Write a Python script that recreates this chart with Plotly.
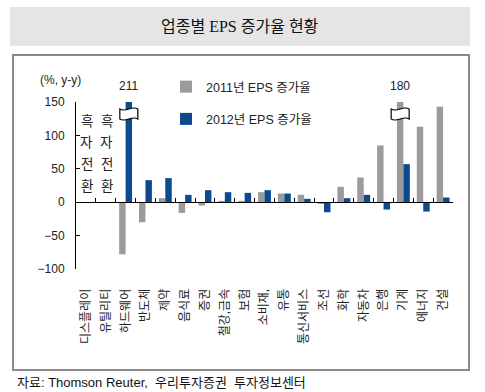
import plotly.graph_objects as go

# ---------------- data ----------------
categories = ["디스플레이", "유틸리티", "하드웨어", "반도체", "제약", "음식료", "증권",
              "철강,금속", "보험", "소비재,", "유통", "통신서비스", "조선", "화학",
              "자동차", "은행", "기계", "에너지", "건설"]
eps_2011 = [None, None, -78, -30, 6, -16, -5, 2, 2, 15, 13, 11, -2, 23, 37, 85, 180, 113, 143]
eps_2012 = [None, None, 211, 33, 36, 11, 18, 15, 14, 18, 13, 5, -15, 6, 11, -11, 57, -14, 7]
series_names = ["2011년 EPS 증가율", "2012년 EPS 증가율"]
turnaround_text = "흑자전환"
turnaround_cats = ["디스플레이", "유틸리티"]
y_ticks = [-100, -50, 0, 50, 100, 150]
y_range = [-100, 150]

title_text = "업종별 EPS 증가율 현황"
unit_text = "(%, y-y)"
source_text = "자료: Thomson Reuter,\u00a0\u00a0우리투자증권\u00a0\u00a0투자정보센터"

# ---------------- style ----------------
GRAY = "#9b9b9b"
BLUE = "#0b4a8f"
FONT = "Liberation Sans, Arial, Noto Sans CJK KR, sans-serif"
SERIF = "Liberation Serif, Noto Sans CJK KR, serif"

W, H = 485, 392
L, R, T, B = 76, 453, 102, 269   # plot area in pixels
BARGAP = 0.35
bw = (1 - BARGAP) / 2             # width of one bar in category units


def px_x(p):
    return (p - L) / (R - L)


def px_y(p):
    return (B - p) / (B - T)


cap = y_range[1] + 5
disp_2011 = [None if v is None else min(v, cap) for v in eps_2011]
disp_2012 = [None if v is None else min(v, cap) for v in eps_2012]

fig = go.Figure()
fig.add_trace(go.Bar(x=categories, y=disp_2011, name=series_names[0],
                     marker=dict(color=GRAY, line=dict(width=0)),
                     legendgroup="a", customdata=eps_2011,
                     hovertemplate="%{x}: %{customdata}<extra></extra>"))
fig.add_trace(go.Bar(x=categories, y=disp_2012, name=series_names[1],
                     marker=dict(color=BLUE, line=dict(width=0)),
                     legendgroup="b", customdata=eps_2012,
                     hovertemplate="%{x}: %{customdata}<extra></extra>"))
# invisible trace so the label axis (xaxis2) is rendered
fig.add_trace(go.Scatter(x=[0], y=[0], xaxis="x2", yaxis="y", mode="markers",
                         marker=dict(opacity=0), showlegend=False, hoverinfo="skip"))

zero_pos = (0 - y_range[0]) / (y_range[1] - y_range[0])

fig.update_layout(
    xaxis=dict(type="category", categoryorder="array", categoryarray=categories,
               range=[-0.5, len(categories) - 0.5],
               anchor="free", position=zero_pos,
               showline=True, linecolor="#000", linewidth=1,
               ticks="inside", ticklen=4, tickcolor="#000", tickwidth=1,
               tickson="boundaries", showticklabels=False, showgrid=False,
               zeroline=False, fixedrange=True),
    xaxis2=dict(type="linear", overlaying="x", anchor="y", side="bottom",
                range=[-0.5, len(categories) - 0.5],
                tickmode="array", tickvals=list(range(len(categories))),
                ticktext=categories, tickangle=-90,
                ticks="outside", ticklen=14, tickcolor="rgba(0,0,0,0)",
                showline=False, showgrid=False, zeroline=False,
                tickfont=dict(family=FONT, size=12, color="#222")),
    yaxis=dict(range=y_range, tickmode="array", tickvals=y_ticks,
               showline=True, linecolor="#000", linewidth=1,
               ticks="inside", ticklen=4, tickcolor="#000",
               showgrid=False, zeroline=False,
               tickfont=dict(family=FONT, size=12, color="#222"),
               ticklabelstandoff=8),
    barmode="group", bargap=BARGAP, bargroupgap=0,
    width=W, height=H,
    margin=dict(l=L, r=W - R, t=T, b=H - B, pad=0),
    plot_bgcolor="white", paper_bgcolor="white",
    font=dict(family=FONT, size=12, color="#222"),
    showlegend=True,
    legend=dict(x=px_x(166), y=px_y(72), xanchor="left", yanchor="top",
                bgcolor="rgba(0,0,0,0)", font=dict(family=FONT, size=12.5, color="#222"),
                traceorder="grouped", tracegroupgap=13, itemwidth=30),
)

shapes = []
annotations = []


def note(text, x, y, xref="paper", yref="paper", xanchor="center", size=12,
         family=FONT, color="#222", xshift=0):
    annotations.append(dict(text=text, xref=xref, yref=yref, x=x, y=y,
                            xanchor=xanchor, yanchor="middle", xshift=xshift,
                            showarrow=False,
                            font=dict(family=family, size=size, color=color)))


# title bar and outer frame
shapes.append(dict(type="rect", xref="paper", yref="paper",
                   x0=px_x(10), x1=px_x(470), y0=px_y(46), y1=px_y(7),
                   fillcolor="#e5e5e5", line=dict(width=0), layer="below"))
shapes.append(dict(type="rect", xref="paper", yref="paper",
                   x0=px_x(13), x1=px_x(469), y0=px_y(370), y1=px_y(55),
                   fillcolor="rgba(0,0,0,0)", line=dict(color="#8a8a8a", width=2)))
note(title_text, px_x(240), px_y(26), size=16, family=SERIF, color="#111")
note(unit_text, px_x(60), px_y(80))
note(source_text, px_x(15), px_y(382), xanchor="left", size=13, color="#111")

# 흑자전환 vertical texts
for cat in turnaround_cats:
    idx = categories.index(cat)
    for k, ch in enumerate(turnaround_text):
        note(ch, idx, px_y(121 + k * 21.7), xref="x", size=13.5, xshift=1)

# broken bars: value labels + break symbols
flag = "M -9,-5 C -3,-9 3,-1 9,-5 L 9,5 C 3,9 -3,1 -9,5 Z"
for series, offset in ((eps_2011, -bw / 2), (eps_2012, bw / 2)):
    for idx, v in enumerate(series):
        if v is not None and v > y_range[1]:
            note(str(v), idx + offset, px_y(86), xref="x")
            shapes.append(dict(type="path", xref="x", yref="y",
                               xsizemode="pixel", ysizemode="pixel",
                               xanchor=idx + offset, yanchor=y_range[1] - 18,
                               path=flag, fillcolor="white",
                               line=dict(color="#000", width=1.2)))

fig.update_layout(shapes=shapes, annotations=annotations)
fig.write_html("out.html", post_script="document.body.style.margin='0';",
               config={"displayModeBar": False})
